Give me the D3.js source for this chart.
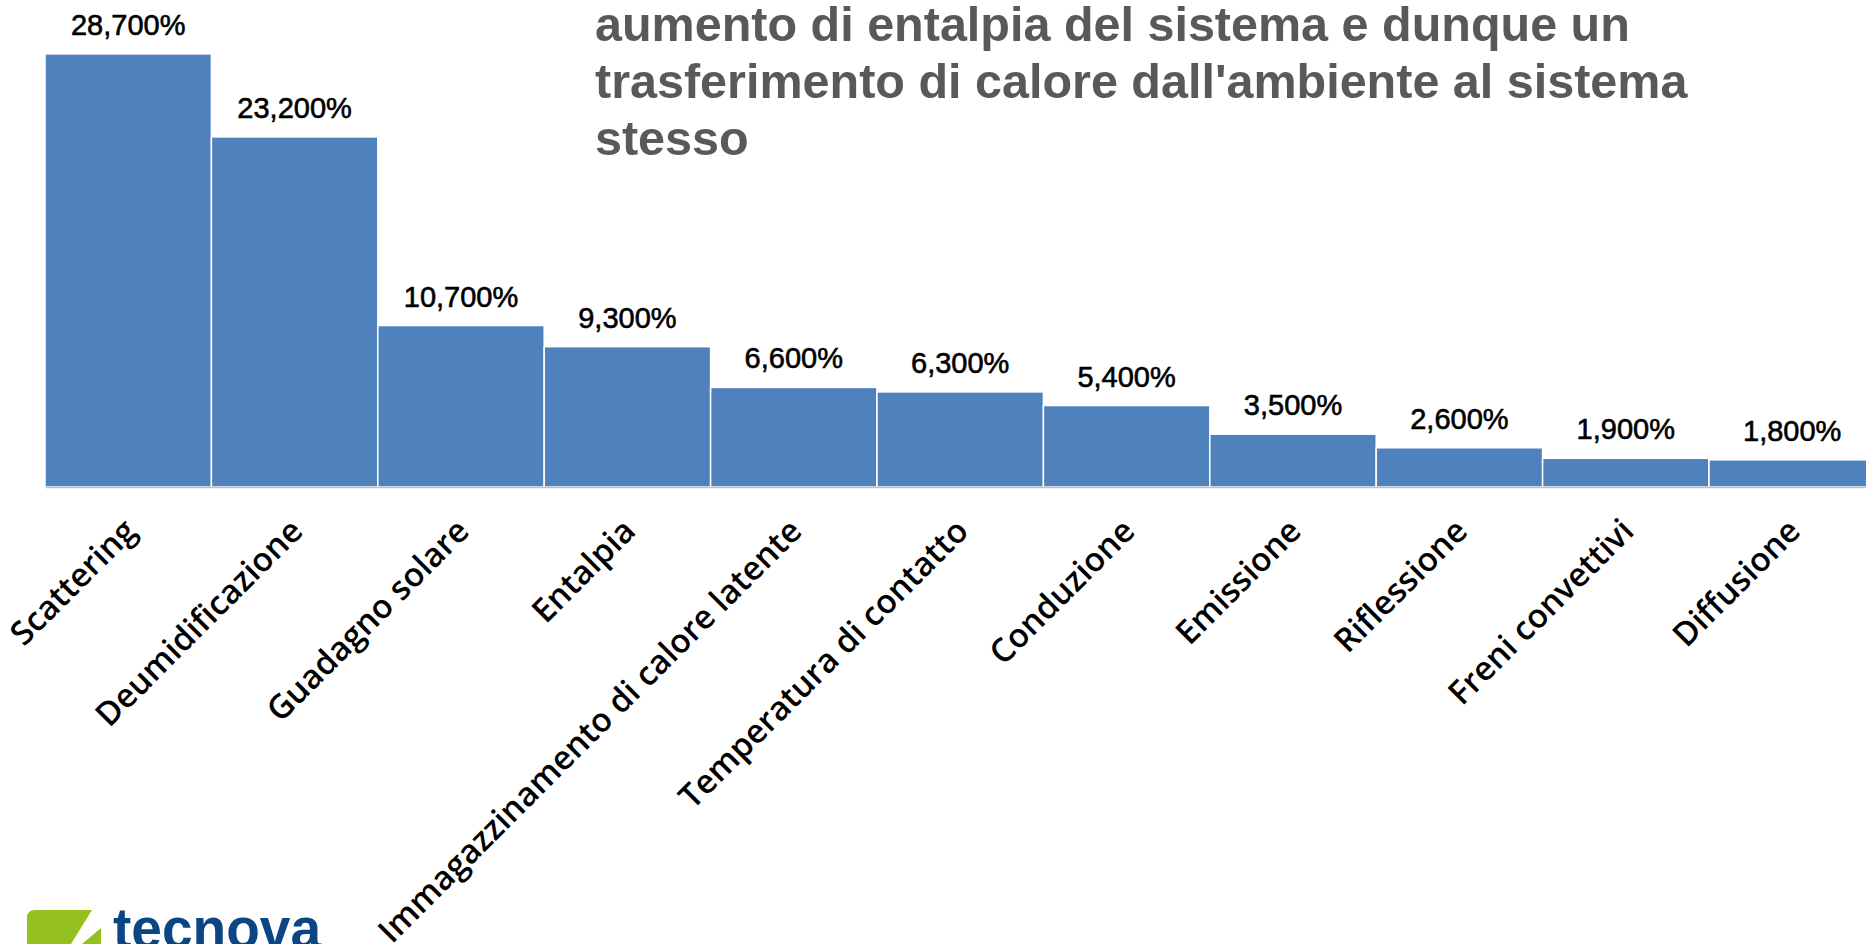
<!DOCTYPE html>
<html><head><meta charset="utf-8">
<script src="https://cdn.jsdelivr.net/npm/d3@7"></script>
<style>html,body{margin:0;padding:0;background:#fff;overflow:hidden}</style>
</head><body>
<svg id="c" width="1866" height="944"></svg>
<script>
const categories = ["Scattering","Deumidificazione","Guadagno solare","Entalpia","Immagazzinamento di calore latente","Temperatura di contatto","Conduzione","Emissione","Riflessione","Freni convettivi","Diffusione"];
const values = [28.7,23.2,10.7,9.3,6.6,6.3,5.4,3.5,2.6,1.9,1.8];
const titleLines = ["aumento di entalpia del sistema e dunque un","trasferimento di calore dall'ambiente al sistema","stesso"];

const svg = d3.select("#c");
const x = d3.scaleBand().domain(categories).range([45, 45 + 166.4*11]).padding(0);
const y = d3.scaleLinear().domain([0, 30]).range([487, 34.3]);
const loc = d3.formatLocale({decimal: ",", thousands: ".", grouping: [3], currency: ["", "€"]});
const fmt = v => loc.format(".3f")(v) + "%";

// bars
svg.append("g").selectAll("rect").data(values).join("rect")
  .attr("x", (d,i) => x(categories[i]))
  .attr("y", d => y(d))
  .attr("width", x.bandwidth())
  .attr("height", d => y(0) - y(d))
  .attr("fill", "#4f81bd")
  .attr("stroke", "#ffffff").attr("stroke-width", 1.5);

// axis line
const ax = svg.append("g").attr("transform", `translate(0,${y(0)})`)
  .call(d3.axisBottom(x).tickSize(0).tickFormat(""));
ax.select(".domain").attr("stroke", "#bfbfbf").attr("stroke-width", 1.5);

// value labels
svg.append("g").selectAll("text").data(values).join("text")
  .attr("x", (d,i) => x(categories[i]) + x.bandwidth()/2)
  .attr("y", d => y(d) - 19)
  .attr("text-anchor", "middle")
  .attr("font-family", "Liberation Sans, Arial, sans-serif")
  .attr("font-size", 29)
  .attr("fill", "#000")
  .attr("stroke", "#000").attr("stroke-width", 0.6)
  .text(d => fmt(d));

// category labels
svg.append("g").selectAll("text").data(categories).join("text")
  .attr("transform", d => `translate(${x(d) + x.bandwidth()/2 + 10},${y(0) + 46}) rotate(-45)`)
  .attr("text-anchor", "end")
  .attr("font-family", "Open Sans, Liberation Sans, sans-serif")
  .attr("font-weight", 600)
  .attr("font-size", 33)
  .attr("fill", "#000")
  .text(d => d);

// title
svg.append("g").selectAll("text").data(titleLines).join("text")
  .attr("x", 595)
  .attr("y", (d,i) => 40.5 + i*57)
  .attr("font-family", "Liberation Sans, Arial, sans-serif")
  .attr("font-weight", "bold")
  .attr("font-size", 48.5)
  .attr("fill", "#595959")
  .text(d => d);

// logo
const logo = svg.append("g");
logo.append("path").attr("d", "M27,944 L27,918 Q27,910 35,910 L92,910 L71,944 Z").attr("fill", "#95c11f");
logo.append("path").attr("d", "M101,928 L101,944 L82,944 Z").attr("fill", "#95c11f");
logo.append("text").attr("x", 113).attr("y", 948)
  .attr("font-family", "Liberation Sans, Arial, sans-serif").attr("font-weight", "bold")
  .attr("font-size", 57).attr("fill", "#0b4584")
  .attr("textLength", 208).attr("lengthAdjust", "spacingAndGlyphs")
  .text("tecnova");
</script>
</body></html>
